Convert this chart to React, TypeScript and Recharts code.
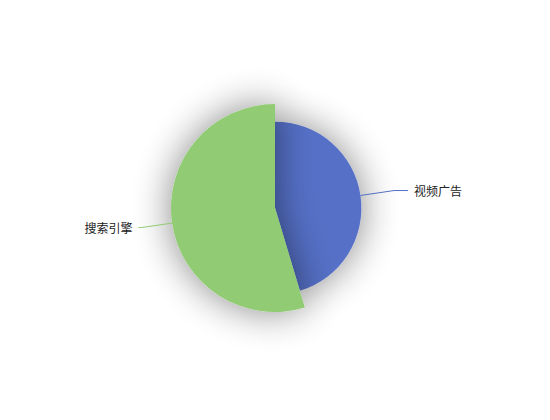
import React from 'react';
import { PieChart, Pie, Cell } from 'recharts';

const channels = ['视频广告', '搜索引擎'];
const visits = [235, 283];
const colors = ['#5470c6', '#91cc75'];

const MAX_R = 104;
const RAD = Math.PI / 180;

const data = channels.map((name, i) => ({ name, value: visits[i] }));
const maxValue = Math.max(...visits);

const renderLabel = (target: number) => (props: any) => {
  const { cx, cy, midAngle, outerRadius, index } = props;
  if (index !== target) return null;
  const cos = Math.cos(-midAngle * RAD);
  const sin = Math.sin(-midAngle * RAD);
  const right = cos >= 0;
  const len1 = right ? 34 : 31;
  const len2 = right ? 14 : 3;
  const sx = cx + outerRadius * cos;
  const sy = cy + outerRadius * sin;
  const mx = cx + (outerRadius + len1) * cos;
  const my = cy + (outerRadius + len1) * sin;
  const ex = mx + (right ? len2 : -len2);
  return (
    <g>
      <polyline
        points={`${sx},${sy} ${mx},${my} ${ex},${my}`}
        fill="none"
        stroke={colors[index]}
        strokeWidth={1}
      />
      <text
        x={ex + (right ? 6 : -6)}
        y={my}
        textAnchor={right ? 'start' : 'end'}
        dominantBaseline="central"
        fill="#222"
        fontSize={12}
        fontFamily="'Noto Sans CJK SC', sans-serif"
      >
        {channels[index]}
      </text>
    </g>
  );
};

const App: React.FC = () => {
  return (
    <div style={{ width: 550, height: 420, background: '#fff' }}>
      <style>{'body { margin: 0; }'}</style>
      <PieChart width={550} height={420} margin={{ top: 0, right: 0, bottom: 0, left: 0 }}>
        <defs>
          <filter id="sliceShadow" x="-80%" y="-80%" width="260%" height="260%">
            <feGaussianBlur in="SourceAlpha" stdDeviation="19" />
            <feComponentTransfer>
              <feFuncA type="linear" slope="0.48" />
            </feComponentTransfer>
            <feMerge>
              <feMergeNode />
              <feMergeNode in="SourceGraphic" />
            </feMerge>
          </filter>
        </defs>
        {data.map((_, target) => (
          <Pie
            key={target}
            data={data}
            dataKey="value"
            nameKey="name"
            cx={275}
            cy={208}
            innerRadius={0}
            outerRadius={(MAX_R * visits[target]) / maxValue}
            startAngle={90}
            endAngle={-270}
            stroke="none"
            label={renderLabel(target)}
            labelLine={false}
            isAnimationActive={false}
          >
            {data.map((_, i) => (
              <Cell
                key={i}
                fill={i === target ? colors[i] : 'none'}
                filter={i === target ? 'url(#sliceShadow)' : undefined}
              />
            ))}
          </Pie>
        ))}
      </PieChart>
    </div>
  );
};

export default App;
